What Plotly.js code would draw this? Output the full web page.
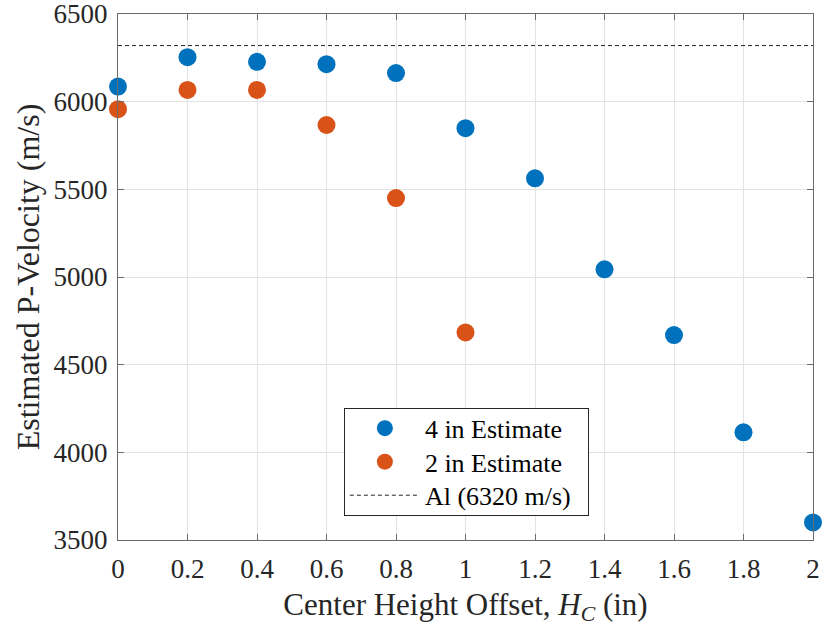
<!DOCTYPE html>
<html>
<head>
<meta charset="utf-8">
<script src="https://cdn.plot.ly/plotly-3.0.1.min.js"></script>
<style>html,body{margin:0;padding:0;background:#fff;}</style>
</head>
<body>
<div id="chart" style="width:823px;height:634px;"></div>
<script>
// Data
const offsets4in = [0, 0.2, 0.4, 0.6, 0.8, 1.0, 1.2, 1.4, 1.6, 1.8, 2.0];
const velocity4in = [6086, 6254, 6227, 6214, 6163, 5849, 5563, 5044, 4669, 4114, 3600];
const offsets2in = [0, 0.2, 0.4, 0.6, 0.8, 1.0];
const velocity2in = [5957, 6067, 6067, 5867, 5450, 4684];
const aluminumVelocity = 6320;
const xRange = [0, 2];
const xTickVals = [0, 0.2, 0.4, 0.6, 0.8, 1, 1.2, 1.4, 1.6, 1.8, 2];
const xTickText = ['0', '0.2', '0.4', '0.6', '0.8', '1', '1.2', '1.4', '1.6', '1.8', '2'];
const yTickVals = [3500, 4000, 4500, 5000, 5500, 6000, 6500];
const seriesNames = ['4 in Estimate', '2 in Estimate', 'Al (6320 m/s)'];

const FONT = '"Liberation Serif", "Times New Roman", serif';
const AXCOL = '#6b6b6b';
const GRID = '#e3e3e3';

const traces = [
  {
    x: offsets4in, y: velocity4in, type: 'scatter', mode: 'markers',
    name: seriesNames[0], cliponaxis: false,
    marker: {color: '#0072BD', size: 18}
  },
  {
    x: offsets2in, y: velocity2in, type: 'scatter', mode: 'markers',
    name: seriesNames[1], cliponaxis: false,
    marker: {color: '#D95319', size: 18}
  },
  {
    x: xRange, y: [aluminumVelocity, aluminumVelocity], type: 'scatter', mode: 'lines',
    name: seriesNames[2],
    line: {color: '#262626', width: 1, dash: '4px,3px'}
  }
];

const layout = {
  width: 823, height: 634,
  margin: {l: 118, r: 10, t: 14, b: 94},
  paper_bgcolor: '#fff', plot_bgcolor: '#fff',
  font: {family: FONT, color: '#262626', size: 27},
  showlegend: true,
  legend: {
    x: 0.325, y: 0.2515, xanchor: 'left', yanchor: 'top',
    bordercolor: '#262626', borderwidth: 1, bgcolor: '#fff',
    font: {family: FONT, size: 26, color: '#000'},
    tracegroupgap: 0, itemwidth: 70
  },
  xaxis: {
    range: xRange, tickvals: xTickVals, ticktext: xTickText,
    ticks: 'inside', ticklen: 6, tickcolor: AXCOL,
    showline: true, linecolor: AXCOL, linewidth: 1, mirror: 'ticks',
    showgrid: true, gridcolor: GRID, zeroline: false,
    ticklabelstandoff: 5, ticklabeloverflow: 'allow',
    tickfont: {family: FONT, size: 27, color: '#262626'},
    title: {text: 'Center Height Offset, <i>H<sub>C</sub></i> (in)', font: {family: FONT, size: 31, color: '#262626'}, standoff: 9}
  },
  yaxis: {
    range: [3500, 6500], tickvals: yTickVals,
    ticks: 'inside', ticklen: 6, tickcolor: AXCOL,
    showline: true, linecolor: AXCOL, linewidth: 1, mirror: 'ticks',
    showgrid: true, gridcolor: GRID, zeroline: false,
    ticklabelstandoff: 4, ticklabeloverflow: 'allow',
    tickfont: {family: FONT, size: 27, color: '#262626'},
    title: {text: 'Estimated P-Velocity (m/s)', font: {family: FONT, size: 32, color: '#262626'}, standoff: 4}
  }
};

Plotly.newPlot('chart', traces, layout, {displayModeBar: false, staticPlot: true}).then(function (gd) {
  // tighten legend rows to match the reference spacing
  const leg = gd.querySelector('.legend');
  if (!leg) return;
  const rowCenters = [20.5, 54, 87.5];
  const items = leg.querySelectorAll('.traces');
  items.forEach(function (t, i) {
    const m = /translate\(([-\d.]+)[ ,]+([-\d.]+)\)/.exec(t.getAttribute('transform') || '');
    if (m && rowCenters[i] !== undefined) {
      t.setAttribute('transform', 'translate(' + m[1] + ',' + rowCenters[i] + ')');
    }
  });
  const bg = leg.querySelector('rect.bg');
  if (bg) { bg.setAttribute('height', 107); bg.setAttribute('width', 244); }
});
</script>
</body>
</html>
